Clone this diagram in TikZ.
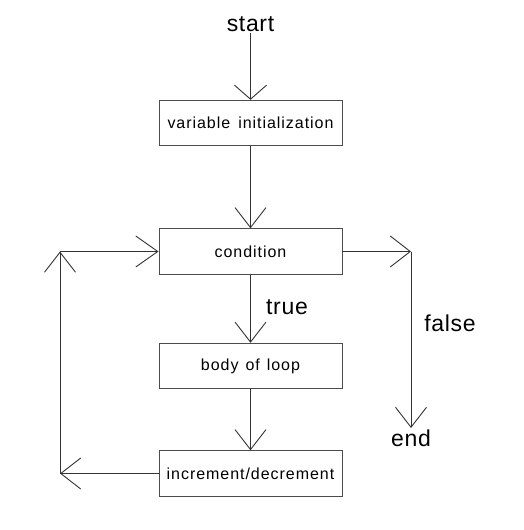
\documentclass[tikz,border=0pt]{standalone}
\usepackage{fontspec}
\setmainfont{Liberation Sans}[LetterSpace=6]
\newfontfamily\lblfont{Liberation Sans}[LetterSpace=3]
\usetikzlibrary{arrows.meta}
\begin{document}
\begin{tikzpicture}[x=1pt,y=-1pt,
  box/.style={draw=black!70, line width=0.9pt, minimum width=183pt, minimum height=45.5pt, inner sep=0pt, font=\fontsize{16}{19}\selectfont, text=black},
  lbl/.style={inner sep=1.5pt, font=\lblfont\fontsize{23}{27}\selectfont, text=black},
  arr/.style={draw=black!80, line width=0.9pt, -{Straight Barb[length=20pt,width=31pt]}}]
\useasboundingbox (0,0) rectangle (523,530);
\node[lbl, anchor=base] (start) at (250.5,31) {start};
\node[box] (init) at (250.5,123) {variable\hspace{8pt}initialization};
\node[box] (cond) at (250.5,251.5) {condition};
\node[box] (body) at (250.5,366) {body\hspace{7pt}of\hspace{7pt}loop};
\node[box] (inc) at (250.5,473.5) {increment/decrement};
\node[lbl] (true) at (287,307) {true};
\node[lbl] (false) at (450,323) {false};
\node[lbl, anchor=north] (end) at (411,428) {end};
\coordinate (ur) at (411,251.5);
\coordinate (ul) at (60,251.5);
\coordinate (ll) at (60,473.5);
\draw[arr, -{Straight Barb[length=14pt,width=32pt]}] (start.south) -- (init.north);
\draw[arr] (init.south) -- (cond.north);
\draw[arr] (cond.south) -- (body.north);
\draw[arr] (body.south) -- (inc.north);
\draw[arr] (inc.west) -- (ll);
\draw[arr] (ll) -- (ul);
\draw[arr, -{Straight Barb[length=22pt,width=31pt]}] (ul) -- (cond.west);
\draw[arr] (cond.east) -- (ur);
\draw[arr] (ur) -- (end.north);
\end{tikzpicture}
\end{document}
